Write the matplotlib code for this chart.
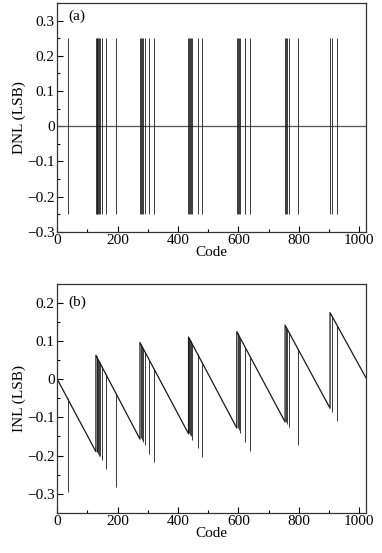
import numpy as np
import matplotlib
matplotlib.use("Agg")
import matplotlib.pyplot as plt
from matplotlib.ticker import MultipleLocator

plt.rcParams['font.family'] = ['Liberation Serif', 'DejaVu Serif']
plt.rcParams['font.size'] = 11

# DNL spike codes (spikes go from -0.25 to +0.25)
dnl_codes = [34,
             128, 130, 133, 136, 139, 141, 147, 162, 194,
             274, 277, 280, 283, 290, 305, 320,
             434, 437, 440, 442, 448, 465, 480,
             595, 598, 601, 607, 623, 639,
             755, 758, 762, 768, 799,
             904, 910, 927]
dnl_low = -0.25
dnl_high = 0.25
n_codes = 1023

# INL sawtooth vertices
saw_codes = [0, 128, 128, 274, 274, 435, 435, 595, 595, 755, 755, 904, 904, 1023]
saw_values = [0.0, -0.19, 0.063, -0.157, 0.0965, -0.143, 0.111, -0.128, 0.125,
              -0.112, 0.142, -0.076, 0.175, 0.004]

# INL dips: code, value on the line, bottom of the dip
dip_codes = [34, 130, 133, 136, 139, 141, 147, 162, 194,
             277, 280, 283, 290, 305, 320,
             437, 440, 442, 448, 465, 480,
             598, 601, 607, 623, 639,
             758, 762, 768, 799,
             910, 927]
dip_tops = [-0.049, 0.060, 0.056, 0.051, 0.047, 0.044, 0.035, 0.013, -0.036,
            0.092, 0.087, 0.083, 0.072, 0.050, 0.027,
            0.108, 0.104, 0.100, 0.092, 0.066, 0.044,
            0.121, 0.116, 0.107, 0.083, 0.059,
            0.137, 0.131, 0.122, 0.076,
            0.166, 0.141]
dip_bottoms = [-0.297, -0.19, -0.19, -0.195, -0.20, -0.20, -0.212, -0.235, -0.282,
               -0.155, -0.16, -0.165, -0.173, -0.195, -0.217,
               -0.142, -0.145, -0.148, -0.158, -0.181, -0.204,
               -0.127, -0.132, -0.14, -0.165, -0.188,
               -0.112, -0.118, -0.126, -0.173,
               -0.086, -0.11]

fig = plt.figure(figsize=(3.82, 5.53), dpi=100)
ax1 = fig.add_axes([0.150, 0.581, 0.808, 0.4136])
ax2 = fig.add_axes([0.150, 0.0729, 0.808, 0.4135])

ax1.plot([0, n_codes], [0, 0], color='#555555', lw=0.9)
ax1.vlines(dnl_codes, dnl_low, dnl_high, color='#1a1a1a', lw=0.6)
ax1.set_xlim(0, n_codes)
ax1.set_ylim(-0.3, 0.35)
ax1.set_yticks([-0.3, -0.2, -0.1, 0, 0.1, 0.2, 0.3])
ax1.set_yticklabels(['\u22120.3', '\u22120.2', '\u22120.1', '0', '0.1', '0.2', '0.3'])
ax1.set_ylabel('DNL (LSB)', labelpad=1)
ax1.set_xlabel('Code', labelpad=-1)
ax1.text(0.036, 0.94, '(a)', transform=ax1.transAxes, va='center', ha='left')

ax2.plot(saw_codes, saw_values, color='#1a1a1a', lw=0.9)
ax2.vlines(dip_codes, dip_bottoms, dip_tops, color='#1a1a1a', lw=0.6)
ax2.set_xlim(0, n_codes)
ax2.set_ylim(-0.35, 0.25)
ax2.set_yticks([-0.3, -0.2, -0.1, 0, 0.1, 0.2])
ax2.set_yticklabels(['\u22120.3', '\u22120.2', '\u22120.1', '0', '0.1', '0.2'])
ax2.set_ylabel('INL (LSB)', labelpad=1)
ax2.set_xlabel('Code', labelpad=-1)
ax2.text(0.036, 0.92, '(b)', transform=ax2.transAxes, va='center', ha='left')

for ax in (ax1, ax2):
    ax.set_xticks([0, 200, 400, 600, 800, 1000])
    ax.xaxis.set_minor_locator(MultipleLocator(100))
    ax.yaxis.set_minor_locator(MultipleLocator(0.05))
    ax.tick_params(which='both', direction='in', top=False, right=False, width=0.8)
    ax.tick_params(which='major', length=4, pad=2)
    ax.tick_params(which='minor', length=2)
    for s in ax.spines.values():
        s.set_linewidth(0.9)
        s.set_color('#333333')

fig.savefig('out.png', dpi=100)
